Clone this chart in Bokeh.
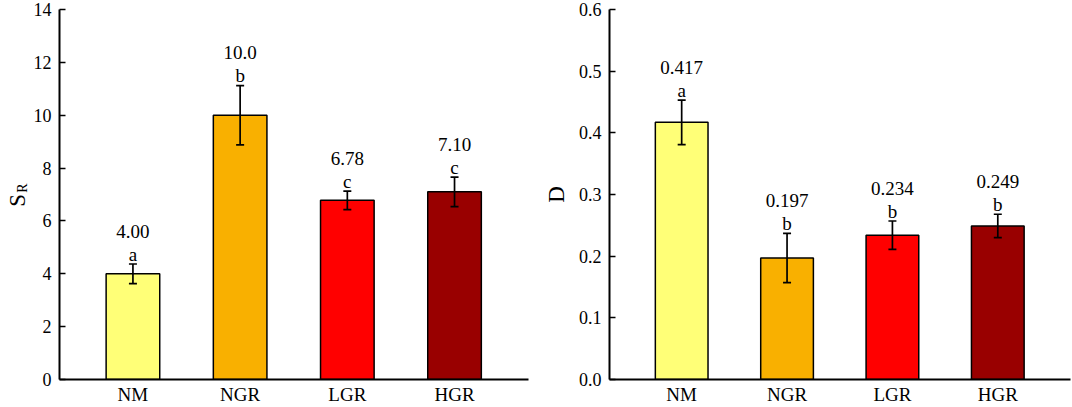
import math
from bokeh.plotting import figure
from bokeh.models import (Range1d, FixedTicker, Whisker, TeeHead, ColumnDataSource,
                          PrintfTickFormatter)
from bokeh.layouts import row
from bokeh.embed import file_html
from bokeh.resources import INLINE
from bokeh.core.properties import value

# ---- data ----
categories = ["NM", "NGR", "LGR", "HGR"]
colors = ["#FFFF77", "#F9B000", "#FF0000", "#990000"]

sr_values = [4.00, 10.0, 6.78, 7.10]
sr_errors = [0.37, 1.12, 0.35, 0.56]
sr_letters = ["a", "b", "c", "c"]
sr_ticks = [0, 2, 4, 6, 8, 10, 12, 14]

d_values = [0.417, 0.197, 0.234, 0.249]
d_errors = [0.036, 0.040, 0.023, 0.019]
d_letters = ["a", "b", "b", "b"]
d_ticks = [0.0, 0.1, 0.2, 0.3, 0.4, 0.5, 0.6]

FONT = "Liberation Serif"
H = 407
TOP, BOTTOM = 9, 27


def panel(vals, errs, letters, ticks, width, border_left, border_right, fmt=None):
    idx = list(range(len(categories)))
    src = ColumnDataSource(dict(
        x=idx, top=vals, color=colors,
        upper=[v + e for v, e in zip(vals, errs)],
        lower=[v - e for v, e in zip(vals, errs)],
        vlabel=[f"{v:#.3g}" for v in vals],
        letter=letters,
    ))
    p = figure(width=width, height=H, output_backend="svg", toolbar_location=None,
               x_range=Range1d(-0.685, len(categories) - 1 + 0.69),
               y_range=Range1d(ticks[0], ticks[-1]),
               min_border_left=border_left, min_border_right=border_right,
               min_border_top=TOP, min_border_bottom=BOTTOM)
    p.outline_line_color = None
    p.grid.visible = False
    p.background_fill_color = "white"
    p.border_fill_color = "white"

    p.vbar(x="x", top="top", width=0.5, bottom=0, source=src, fill_color="color",
           line_color="black", line_width=1.5)
    tee = dict(size=8, line_width=1.7, line_color="black")
    p.add_layout(Whisker(base="x", upper="upper", lower="lower", source=src,
                         line_width=1.7, line_color="black", level="overlay",
                         upper_head=TeeHead(**tee), lower_head=TeeHead(**tee)))
    p.text(x="x", y="upper", text="letter", source=src, y_offset=-10,
           text_align="center", text_baseline="alphabetic",
           text_font=value(FONT), text_font_size="19px", text_color="black")
    p.text(x="x", y="upper", text="vlabel", source=src, y_offset=-33,
           text_align="center", text_baseline="alphabetic",
           text_font=value(FONT), text_font_size="19px", text_color="black")

    for ax in (p.xaxis[0], p.yaxis[0]):
        ax.axis_line_color = "black"
        ax.axis_line_width = 2
        ax.major_label_text_font = FONT
        ax.major_label_text_color = "black"
        ax.minor_tick_line_color = None
        ax.axis_label_text_font = FONT
        ax.axis_label_text_font_style = "normal"
        ax.axis_label_text_color = "black"
    p.xaxis.ticker = FixedTicker(ticks=idx)
    p.xaxis.major_label_overrides = {i: c for i, c in enumerate(categories)}
    p.xaxis.major_label_text_font_size = "19px"
    p.xaxis.major_tick_line_color = None
    p.xaxis.major_tick_in = 0
    p.xaxis.major_tick_out = 0
    p.xaxis.major_label_standoff = 4

    p.yaxis.ticker = FixedTicker(ticks=ticks)
    if fmt:
        p.yaxis.formatter = PrintfTickFormatter(format=fmt)
    p.yaxis.major_label_text_font_size = "18px"
    p.yaxis.major_tick_in = 6
    p.yaxis.major_tick_out = 0
    p.yaxis.major_tick_line_width = 1.7
    p.yaxis.major_tick_line_color = "black"
    p.yaxis.major_label_standoff = 8
    return p


# strip holding the rotated "S_R" axis title of the left panel (page pixel coords)
STRIP_W = 30
strip = figure(width=STRIP_W, height=H, output_backend="svg", toolbar_location=None,
               x_range=Range1d(0, STRIP_W), y_range=Range1d(H, 0),
               x_axis_type=None, y_axis_type=None,
               min_border_left=0, min_border_right=0, min_border_top=0, min_border_bottom=0)
strip.outline_line_color = None
strip.grid.visible = False
strip.border_fill_color = "white"
strip.background_fill_color = "white"
strip.text(x=[16.5], y=[210], text=["S"], angle=math.pi / 2,
           text_align="center", text_baseline="middle",
           text_font=value(FONT), text_font_size="23px", text_color="black")
strip.text(x=[21.5], y=[196.5], text=["R"], angle=math.pi / 2,
           text_align="center", text_baseline="middle",
           text_font=value(FONT), text_font_size="14px", text_color="black")

left = panel(sr_values, sr_errors, sr_letters, sr_ticks, 540 - STRIP_W, 58 - STRIP_W, 12)

right = panel(d_values, d_errors, d_letters, d_ticks, 532, 65, 2, fmt="%.1f")
right.yaxis.axis_label = "D"
right.yaxis.axis_label_text_font_size = "23px"
right.yaxis.axis_label_standoff = 7

layout = row(strip, left, right)
open("out.html", "w").write(file_html(layout, INLINE))
